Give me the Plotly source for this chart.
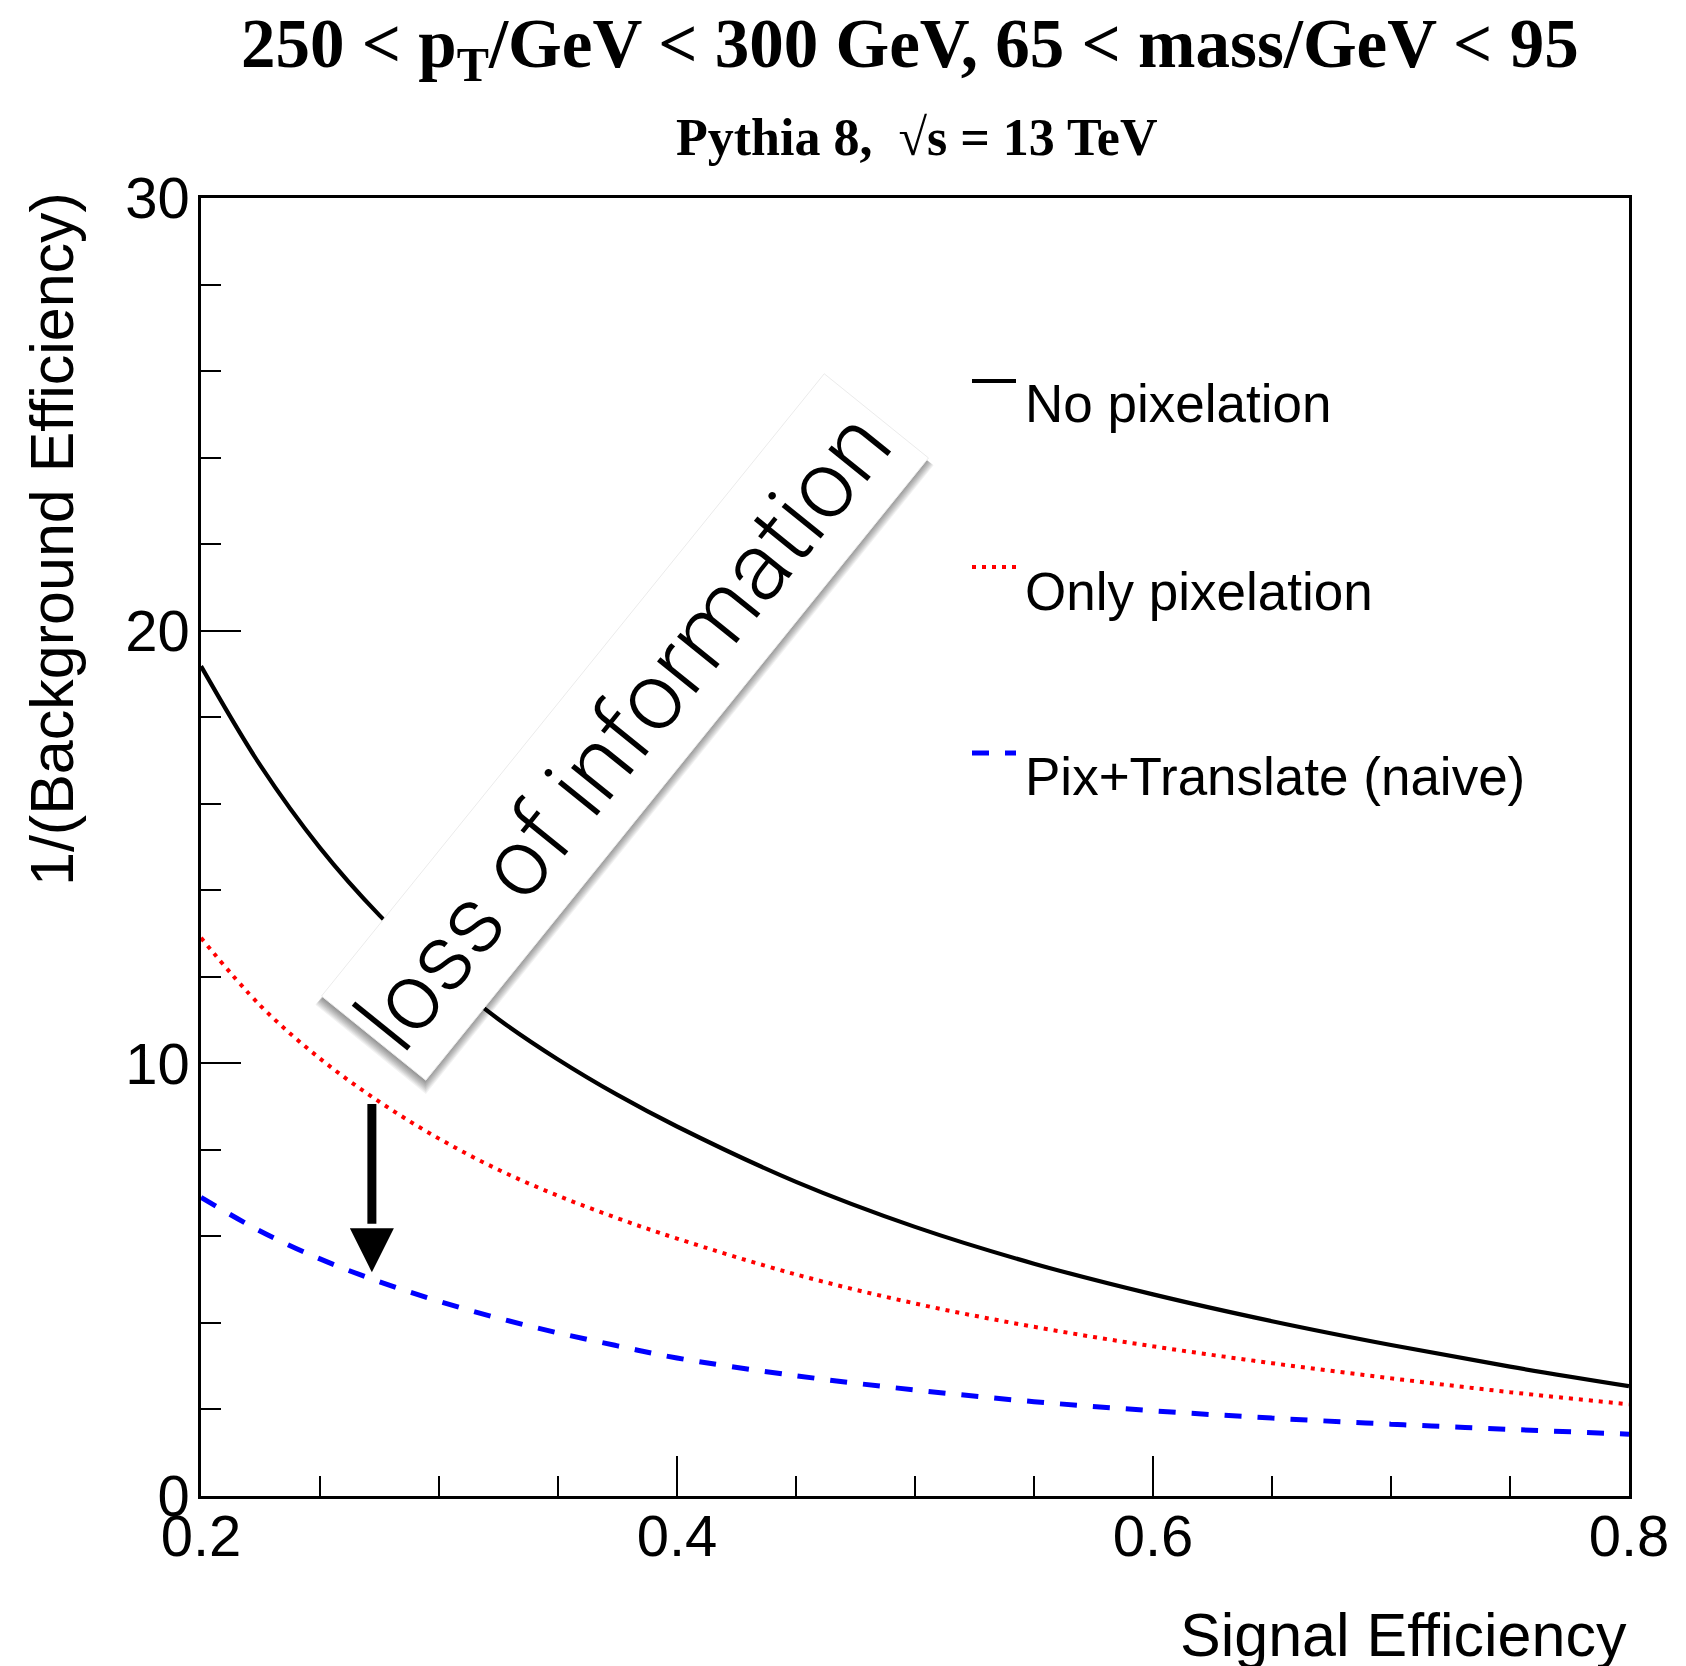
import math
import plotly.graph_objects as go

# ---------------- data ----------------
sig_eff = [0.200, 0.225, 0.250, 0.275, 0.300, 0.325, 0.350, 0.375, 0.400,
           0.45, 0.50, 0.55, 0.60, 0.65, 0.70, 0.75, 0.80]
no_pix = [19.18, 16.88, 14.98, 13.42, 12.12, 11.02, 10.09, 9.27, 8.54,
          7.26, 6.22, 5.37, 4.66, 4.04, 3.49, 2.99, 2.54]
only_pix = [12.90, 11.33, 10.11, 9.11, 8.26, 7.54, 6.94, 6.42, 5.95,
            5.12, 4.45, 3.91, 3.46, 3.07, 2.72, 2.40, 2.12]
pix_translate = [6.90, 6.12, 5.48, 4.95, 4.50, 4.11, 3.77, 3.47, 3.19,
                 2.78, 2.45, 2.18, 1.97, 1.80, 1.66, 1.54, 1.43]

series_names = ["No pixelation", "Only pixelation", "Pix+Translate (naive)"]
x_tickvals = [0.2, 0.4, 0.6, 0.8]
x_ticktext = ["0.2", "0.4", "0.6", "0.8"]
y_tickvals = [0, 10, 20, 30]
y_ticktext = ["0", "10", "20", "30"]

title_text = "250 < p<sub>T</sub>/GeV < 300 GeV, 65 < mass/GeV < 95"
subtitle_text = "Pythia 8,  √s = 13 TeV"
x_title = "Signal Efficiency"
y_title = "1/(Background Efficiency)"
box_text = "loss of information"

# arrow (data coords)
arrow_x = 0.2718
arrow_top, arrow_base, arrow_tip = 9.06, 6.19, 5.17

# ---------------- layout geometry ----------------
W, H = 1686, 1666
L, R, T, B = 201, 57, 198, 170
PW = W - L - R
PH = H - T - B


def px(xp):
    return (xp - L) / PW


def py(yp):
    return (H - B - yp) / PH


SANS = "Liberation Sans"
SERIF = "Liberation Serif"

styles = [
    dict(color="black", width=4.2, dash="solid"),
    dict(color="#ff0000", width=4.0, dash="4px,6px"),
    dict(color="#0000ff", width=5.0, dash="17px,16px"),
]

fig = go.Figure()
for name, ys, st in zip(series_names, [no_pix, only_pix, pix_translate], styles):
    fig.add_trace(go.Scatter(x=sig_eff, y=ys, mode="lines", name=name,
                             line=dict(color=st["color"], width=st["width"],
                                       dash=st["dash"], shape="spline", smoothing=1.0),
                             showlegend=False, hoverinfo="skip"))

shapes = []
annotations = []

# legend (manual)
leg_line_y = [381, 567, 753]
leg_text_y = [404, 591, 777]
for name, st, ly, ty in zip(series_names, styles, leg_line_y, leg_text_y):
    shapes.append(dict(type="line", xref="paper", yref="paper",
                       x0=px(972), x1=px(1016), y0=py(ly), y1=py(ly),
                       line=dict(color=st["color"], width=st["width"], dash=st["dash"]),
                       layer="above"))
    annotations.append(dict(text=name, xref="paper", yref="paper",
                            x=px(1023), y=py(ty), xanchor="left", yanchor="middle",
                            showarrow=False, font=dict(family=SANS, size=53, color="black")))

# rotated box with shadow
cx, cy = 625, 727
ang = math.radians(51.07)
u = (math.cos(ang), -math.sin(ang))
v = (math.sin(ang), math.cos(ang))
hl, hw = 400, 67


def box_path(dx=0, dy=0, grow=0):
    pts = []
    for a, b in [(-1, -1), (1, -1), (1, 1), (-1, 1)]:
        xx = cx + dx + a * (hl + grow) * u[0] + b * (hw + grow) * v[0]
        yy = cy + dy + a * (hl + grow) * u[1] + b * (hw + grow) * v[1]
        pts.append((px(xx), py(yy)))
    return "M " + " L ".join(f"{p[0]:.5f},{p[1]:.5f}" for p in pts) + " Z"


for k in range(1, 11):
    shapes.append(dict(type="path", xref="paper", yref="paper",
                       path=box_path(-0.5, 1 + 0.7 * k, 0.6 * k - 2),
                       fillcolor="rgba(0,0,0,0.055)", line=dict(width=0), layer="above"))
shapes.append(dict(type="path", xref="paper", yref="paper", path=box_path(),
                   fillcolor="white", line=dict(color="rgba(235,235,235,1)", width=1),
                   layer="above"))

annotations.append(dict(text=box_text, xref="paper", yref="paper",
                        x=px(623), y=py(731), xanchor="center", yanchor="middle",
                        textangle=-51.07, showarrow=False,
                        font=dict(family="Roboto", size=95, color="black", weight=300)))

# arrow
hwid = 0.00924
shapes.append(dict(type="line", xref="x", yref="y", x0=arrow_x, x1=arrow_x,
                   y0=arrow_top, y1=arrow_base + 0.1, line=dict(color="black", width=9),
                   layer="above"))
shapes.append(dict(type="path", xref="x", yref="y",
                   path=f"M {arrow_x-hwid},{arrow_base} L {arrow_x+hwid},{arrow_base} L {arrow_x},{arrow_tip} Z",
                   fillcolor="black", line=dict(width=0), layer="above"))

# titles
annotations.append(dict(text=f"<b>{title_text}</b>", xref="paper", yref="paper",
                        x=px(910), y=py(49), xanchor="center", yanchor="middle",
                        showarrow=False, font=dict(family=SERIF, size=69, color="black")))
annotations.append(dict(text=f"<b>{subtitle_text}</b>", xref="paper", yref="paper",
                        x=px(916), y=py(137), xanchor="center", yanchor="middle",
                        showarrow=False, font=dict(family=SERIF, size=52, color="black")))
annotations.append(dict(text=x_title, xref="paper", yref="paper",
                        x=1.0, y=py(1635), xanchor="right", yanchor="middle",
                        showarrow=False, font=dict(family=SANS, size=61, color="black")))
annotations.append(dict(text=y_title, xref="paper", yref="paper",
                        x=px(52), y=py(190), xanchor="center", yanchor="top",
                        textangle=-90, showarrow=False,
                        font=dict(family=SANS, size=61, color="black")))

axis_common = dict(showline=True, linewidth=2.5, linecolor="black", mirror=True,
                   showgrid=False, zeroline=False, ticks="inside", ticklen=40,
                   tickwidth=2, tickcolor="black",
                   tickfont=dict(family=SANS, size=58, color="black"))

fig.update_layout(
    width=W, height=H,
    margin=dict(l=L, r=R, t=T, b=B, pad=0),
    paper_bgcolor="white", plot_bgcolor="white",
    shapes=shapes, annotations=annotations,
    xaxis=dict(range=[0.2, 0.8], tickmode="array", tickvals=x_tickvals, ticktext=x_ticktext,
               ticklabelstandoff=-12,
               minor=dict(tickmode="linear", tick0=0.2, dtick=0.05, ticks="inside", ticklen=20,
                          tickwidth=2, tickcolor="black", showgrid=False),
               **axis_common),
    yaxis=dict(range=[0, 30], tickmode="array", tickvals=y_tickvals, ticktext=y_ticktext,
               ticklabelstandoff=-3,
               minor=dict(tickmode="linear", tick0=0, dtick=2, ticks="inside", ticklen=20,
                          tickwidth=2, tickcolor="black", showgrid=False),
               **axis_common),
)

fig.write_html("out.html")
